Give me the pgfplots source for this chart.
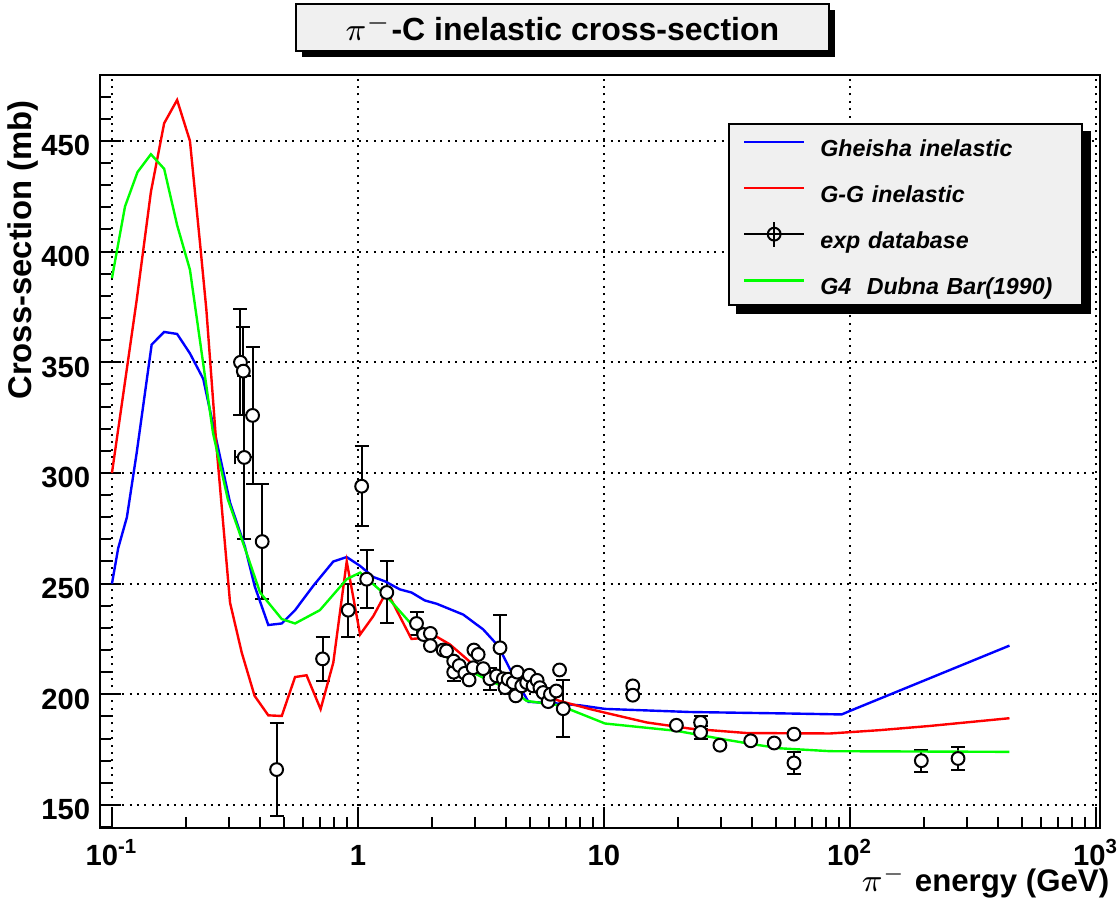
\documentclass[border=0pt]{standalone}
\usepackage{fontspec}
\setmainfont{Liberation Sans}
\usepackage{pgfplots}
\pgfplotsset{compat=1.18}
\usetikzlibrary{shadows,backgrounds}
\definecolor{boxgray}{RGB}{240,240,240}
\definecolor{rootgreen}{RGB}{0,255,0}
\definecolor{rootblue}{RGB}{0,0,255}
\definecolor{rootred}{RGB}{255,0,0}

\begin{document}
\begin{tikzpicture}
\useasboundingbox (-25pt,-20.75pt) rectangle (254.25pt,207pt);
\begin{axis}[
    scale only axis,
    width=250pt, height=188.25pt,
    at={(0,0)}, anchor=south west,
    xmode=log,
    xmin=0.0894, xmax=1038,
    ymin=139.6, ymax=479.8,
    xtick={0.1,1,10,100,1000},
    xticklabels={{10\textsuperscript{-1}},1,10,{10\textsuperscript{2}},{10\textsuperscript{3}}},
    minor xtick={0.2,0.3,0.4,0.5,0.6,0.7,0.8,0.9,2,3,4,5,6,7,8,9,20,30,40,50,60,70,80,90,200,300,400,500,600,700,800,900},
    ytick={150,200,250,300,350,400,450},
    minor ytick={140,160,170,180,190,210,220,230,240,260,270,280,290,310,320,330,340,360,370,380,390,410,420,430,440,460,470},
    /pgf/number format/assume math mode=true,
    tick pos=left, tick align=inside,
    major tick length=5.25pt, minor tick length=2.75pt,
    every tick/.style={black, line width=0.5pt},
    axis line style={line width=0.6pt},
    grid=major,
    grid style={black, line width=0.5pt, dash pattern=on 0.5pt off 1.35pt},
    tick label style={font=\fontsize{7.3}{8}\selectfont\bfseries, inner sep=0pt},
    xticklabel style={anchor=base, yshift=-9.5pt},
    yticklabel style={xshift=-2.25pt, yshift=-1.2pt},
    xlabel={$\pi^{-}$ energy (GeV)},
    xlabel style={font=\fontsize{7.8}{9}\selectfont\bfseries, at={(axis description cs:1.01,-0.072)}, anchor=east, inner sep=0pt},
    ylabel={Cross-section (mb)},
    ylabel style={font=\fontsize{8.2}{9}\selectfont\bfseries, at={(axis description cs:-0.077,0.967)}, anchor=east, inner sep=0pt},
    title={$\pi^{-}$-C inelastic cross-section},
    title style={font=\fontsize{8}{9}\selectfont\bfseries, at={(axis description cs:0.4625,1)}, anchor=center, yshift=5.9pt,
        draw=black, line width=0.5pt, fill=boxgray, minimum width=133.25pt, minimum height=11.75pt, inner sep=0pt,
        drop shadow={shadow xshift=1.5pt, shadow yshift=-1.5pt, fill=black, opacity=1}},
    legend image code/.code={\path (0pt,-1.3pt) (0pt,4.9pt); \draw[#1] (0pt,1.8pt) -- (15pt,1.8pt);},
    legend cell align=left,
    legend style={name=leg, at={(axis description cs:0.628,0.9363)}, anchor=north west,
        draw=black, line width=0.5pt, fill=boxgray,
        inner xsep=3.5pt, inner ysep=1.1pt, row sep=3pt, column sep=3.75pt,
        font=\fontsize{5.8}{6.5}\selectfont\bfseries\itshape,
        nodes={inner sep=0pt, text height=5.2pt, text depth=1.5pt, text width=62pt, align=left}},
]
\addlegendimage{rootblue, line width=0.6pt}
\addlegendentry{Gheisha inelastic}
\addlegendimage{rootred, line width=0.6pt}
\addlegendentry{G-G inelastic}
\addlegendimage{legend image code/.code={\draw[black, line width=0.5pt] (0pt,1.8pt) -- (15pt,1.8pt) (7.5pt,-1.3pt) -- (7.5pt,4.9pt); \draw[black, line width=0.5pt] (7.5pt,1.8pt) circle (1.6pt);}}
\addlegendentry{exp database}
\addlegendimage{rootgreen, line width=0.6pt}
\addlegendentry{G4\ \ Dubna Bar(1990)}

% experimental points with visible errors
\addplot[forget plot, only marks, mark=*, mark size=1.6pt, mark options={fill=white, draw=black, line width=0.5pt},
    error bars/.cd, y dir=both, y explicit,
    error bar style={black, line width=0.5pt},
    error mark options={rotate=90, mark size=1.75pt, line width=0.5pt}]
table[y error=ey] {
x y ey
0.333 350 24
0.342 346 20
0.373 326 31
0.408 269 26
0.467 166 21
0.718 216 10
0.913 238 12
1.035 294 18
1.085 252 13
1.31 246 14
1.73 232 5
2.45 210 4
3.44 207 5
3.78 221 15
6.83 193.5 13
24.7 187.3 3
24.7 182.8 3
59.2 169 5
195 170 5
275 171 5
};
% point with an energy error as well
\addplot[forget plot, only marks, mark=*, mark size=1.6pt, mark options={fill=white, draw=black, line width=0.5pt},
    error bars/.cd, x dir=both, x explicit, y dir=both, y explicit,
    error bar style={black, line width=0.5pt},
    error mark options={rotate=90, mark size=1.75pt, line width=0.5pt}]
coordinates {(0.345,307) +- (0.03,37)};
% experimental points with small errors
\addplot[forget plot, only marks, mark=*, mark size=1.6pt, mark options={fill=white, draw=black, line width=0.5pt}]
table {
x y
1.85 227
1.97 227.5
1.97 222
2.22 220
2.29 219.6
2.45 215
2.58 213
2.72 209.5
2.83 206.5
2.94 212
2.96 220
3.08 218
3.23 211.6
3.66 208.3
3.9 207
3.96 203
4.08 206.8
4.28 205.3
4.38 199.3
4.44 210
4.63 203.8
4.85 205.3
4.97 208.6
5.15 203.8
5.35 206.3
5.49 203
5.66 200.8
5.93 196.7
6.06 200
6.4 201.5
6.6 211
13.1 203.8
13.1 199.6
19.7 186
29.6 177
39.5 179
49.2 178
59.2 182
};

% Gheisha inelastic
\addplot[forget plot, rootblue, line width=0.6pt] table {
x y
0.1 250
0.106 266
0.115 280
0.126 309
0.145 358
0.163 363.7
0.184 362.8
0.2075 354
0.235 342.5
0.262 318
0.302 286.6
0.347 266.8
0.38 249
0.432 231.3
0.49 232
0.555 238
0.658 249
0.794 260
0.9 262
1.02 258
1.154 253
1.29 251
1.48 247.4
1.65 246
1.87 242.4
2.09 240.9
2.68 236
3.23 229.3
3.72 221.8
4.15 211.3
4.93 196.6
6.6 195.8
8 195
10.1 193.4
22.4 192
58.5 191.3
92.5 190.9
100 192.5
445 222
};

% G-G inelastic
\addplot[forget plot, rootred, line width=0.6pt] table {
x y
0.1 300
0.126 378
0.144 427
0.163 458
0.184 468.5
0.2075 450
0.228 403.8
0.242 373.7
0.266 312
0.302 241.4
0.337 218.8
0.38 199.3
0.432 190.5
0.49 190.2
0.555 207.8
0.618 208.6
0.705 193.3
0.794 214.3
0.9 260
1.02 227
1.154 235.3
1.31 246.6
1.65 225
2.09 226
2.36 222.6
2.68 217.3
3.04 212
3.44 208.3
4.02 205.3
5.15 201.5
6.6 197
8.8 193.3
10.1 191.7
14.9 187.3
22.4 184.5
38 182.5
83 182.3
132 183.8
211 185.7
445 189.2
};

% G4 Dubna Bar(1990)
\addplot[forget plot, rootgreen, line width=0.6pt] table {
x y
0.1 388
0.113 420.4
0.127 435.9
0.144 444
0.163 437.4
0.184 412
0.2075 391.8
0.2575 318
0.296 288
0.347 266
0.4 246
0.49 234
0.555 232
0.7 238
0.9 252
1.02 255
1.29 245
1.67 231
2.15 219
2.6 212.6
3.33 206.8
4.27 201.5
4.85 197
6.6 195
8 191.3
10.1 186.8
19.7 183.5
30.5 179.7
40.5 177.4
52 175.6
83 174.3
445 174
};
\end{axis}
\begin{pgfonlayer}{background}
\fill[black] ([shift={(2pt,-2pt)}]leg.south west) rectangle ([shift={(2pt,-2pt)}]leg.north east);
\end{pgfonlayer}
\end{tikzpicture}
\end{document}
